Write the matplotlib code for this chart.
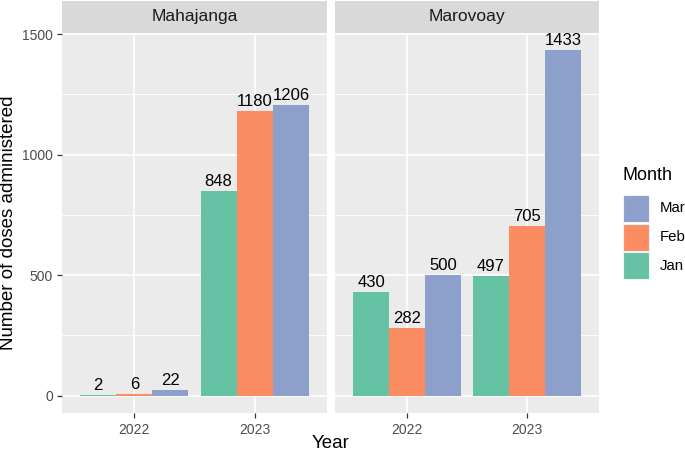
import numpy as np
import matplotlib.pyplot as plt
from matplotlib.patches import Rectangle

# data
sites = ['Mahajanga', 'Marovoay']
years = ['2022', '2023']
months = ['Jan', 'Feb', 'Mar']
colors = ['#66C2A5', '#FC8D62', '#8DA0CB']
mahajanga = {'Jan': [2, 848], 'Feb': [6, 1180], 'Mar': [22, 1206]}
marovoay = {'Jan': [430, 497], 'Feb': [282, 705], 'Mar': [500, 1433]}
values = [mahajanga, marovoay]

plt.rcParams['font.family'] = ['Liberation Sans', 'DejaVu Sans']

W, H = 685, 453
fig = plt.figure(figsize=(W / 100, H / 100), dpi=100)
fig.patch.set_facecolor('white')

panels = [(62, 327), (335, 599)]
top_px, bot_px = 33, 413
strip_top = 1

ymax = max(max(max(v) for v in d.values()) for d in values)
ylim = (-0.05 * ymax, ymax * 1.05)

bw = 0.3
for i, (x0, x1) in enumerate(panels):
    ax = fig.add_axes([x0 / W, (H - bot_px) / H, (x1 - x0) / W, (bot_px - top_px) / H])
    ax.set_facecolor('#EBEBEB')
    for s in ax.spines.values():
        s.set_visible(False)
    ax.set_xlim(0.4, 2.6)
    ax.set_ylim(*ylim)
    ax.set_axisbelow(True)
    for yv in [250, 750, 1250]:
        ax.axhline(yv, color='white', lw=0.6, zorder=0)
    ax.grid(True, color='white', lw=1.2, zorder=0)
    xs = np.arange(1, len(years) + 1)
    for j, m in enumerate(months):
        pos = xs + (j - 1) * bw
        ax.bar(pos, values[i][m], width=bw, color=colors[j], zorder=2)
        for p, v in zip(pos, values[i][m]):
            ax.text(p, v + 8, str(v), ha='center', va='bottom', fontsize=12, color='black', zorder=3)
    ax.set_xticks(xs)
    ax.set_xticklabels(years)
    ax.set_yticks([0, 500, 1000, 1500])
    ax.tick_params(colors='#333333', labelcolor='#4D4D4D', labelsize=10, length=3.5, width=0.9, pad=3)
    ax.tick_params(axis='x', pad=3.5)
    if i == 0:
        ax.set_ylabel('Number of doses administered', fontsize=13.5, color='black', labelpad=4)
    else:
        ax.tick_params(axis='y', left=False, labelleft=False)
    # strip
    sax = fig.add_axes([x0 / W, (H - top_px) / H, (x1 - x0) / W, (top_px - strip_top) / H])
    sax.set_facecolor('#D9D9D9')
    sax.set_xticks([])
    sax.set_yticks([])
    for s in sax.spines.values():
        s.set_visible(False)
    sax.text(0.5, 0.5, sites[i], ha='center', va='center', fontsize=12.5, color='#1A1A1A',
             transform=sax.transAxes)

fig.text((62 + 599) / 2 / W, 1 - 444 / H, 'Year', ha='center', va='center', fontsize=13.5)

# legend
fig.text(622 / W, 1 - 176 / H, 'Month', ha='left', va='center', fontsize=13)
key_x, key_w, key_h, key_y0 = 623, 26, 27, 195
for k, j in enumerate(reversed(range(len(months)))):
    y = key_y0 + k * (key_h + 1.5)
    fig.patches.append(Rectangle((key_x / W, 1 - (y + key_h) / H), key_w / W, key_h / H,
                                 transform=fig.transFigure, facecolor=colors[j],
                                 edgecolor='#F2F2F2', lw=0.8))
    fig.text(660 / W, 1 - (y + key_h / 2) / H, months[j], ha='left', va='center', fontsize=10.8)

fig.savefig('out.png', dpi=100)
